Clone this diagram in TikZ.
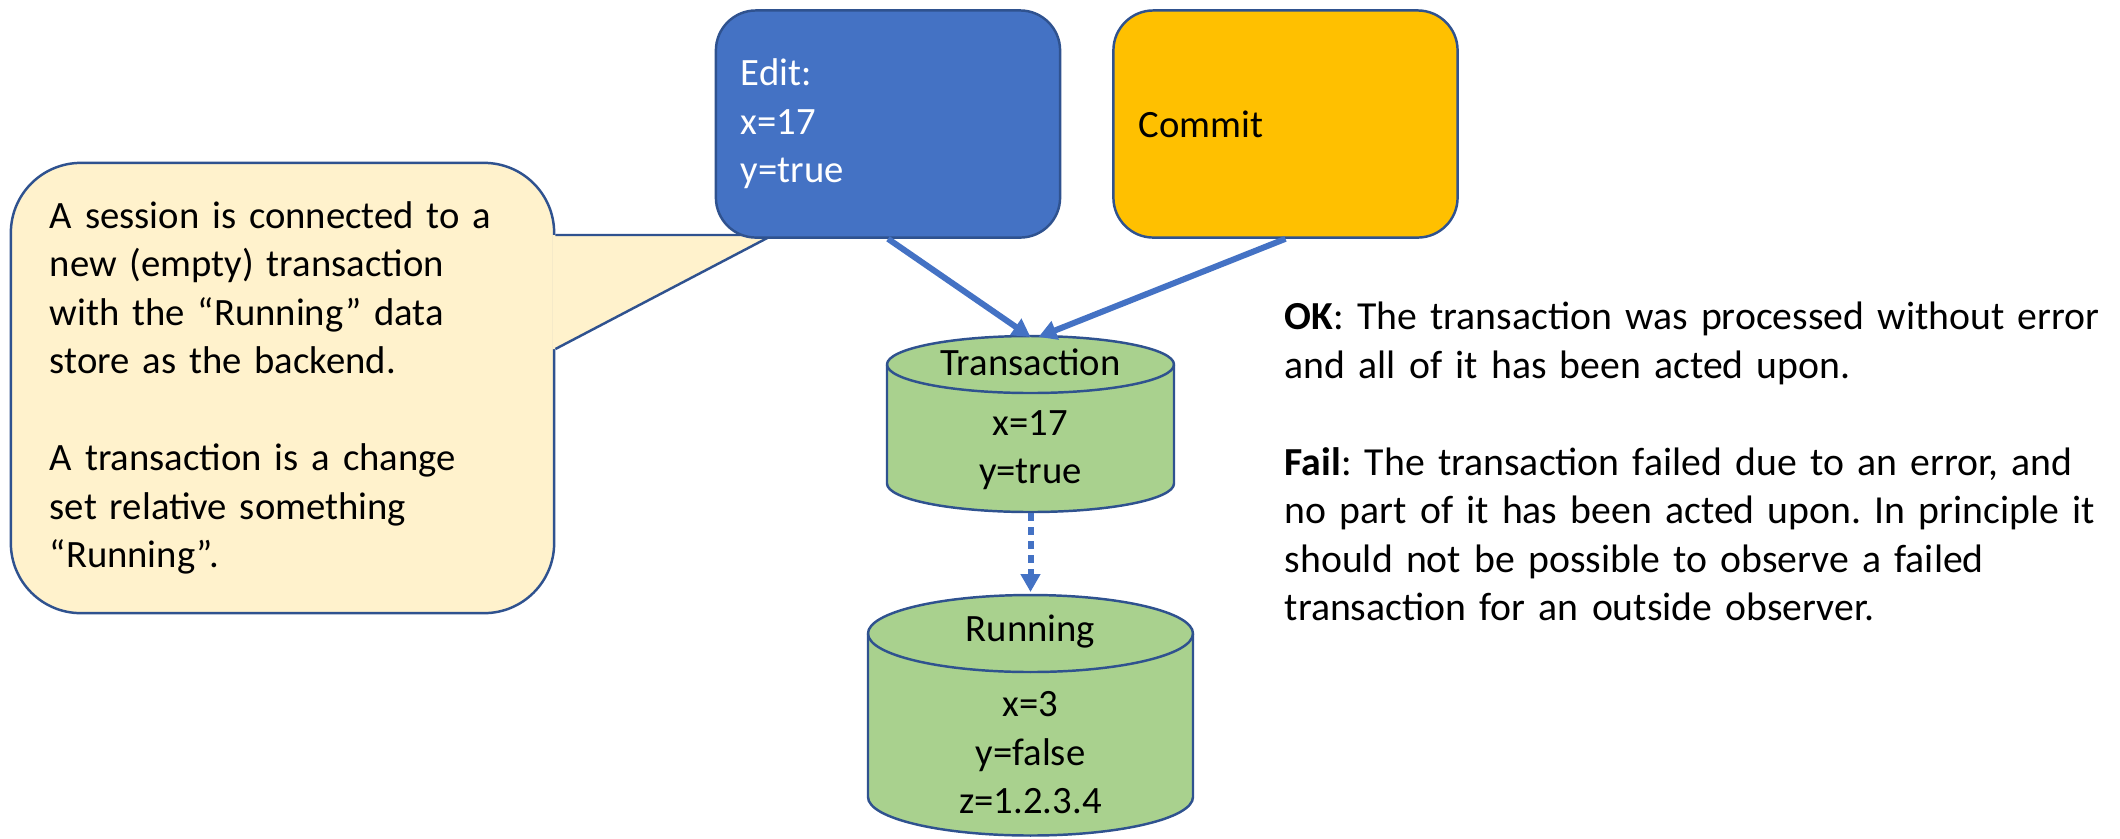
\documentclass[tikz,border=0pt]{standalone}
\usepackage{fontspec}
\setmainfont{Carlito}
\usepackage{tikz}
\usetikzlibrary{arrows.meta}
\usetikzlibrary{positioning}
\definecolor{editblue}{HTML}{4472C4}
\definecolor{edgeblue}{HTML}{2F528F}
\definecolor{commitgold}{HTML}{FFC000}
\definecolor{notecream}{HTML}{FFF2CC}
\definecolor{storegreen}{HTML}{A9D18E}
\frenchspacing
\tikzstyle{txt} = [font=\fontsize{11pt}{13.8pt}\selectfont]
\tikzstyle{op} = [rectangle, rounded corners=0.4cm, draw=edgeblue, line width=0.7pt, minimum height=2.27cm, text width=2.94cm, inner xsep=0.25cm, align=left, txt]
\tikzstyle{bubble} = [rectangle, rounded corners=0.7cm, fill=notecream, draw=edgeblue, line width=0.7pt, minimum height=4.5cm, text width=4.65cm, inner xsep=0.39cm, align=left, txt]
\tikzstyle{store} = [fill=storegreen, draw=edgeblue, line width=0.7pt]
\tikzstyle{arrow} = [draw=editblue, line width=0.06cm, -{Triangle[length=0.18cm,width=0.19cm]}]
\tikzstyle{dotarrow} = [arrow, dash pattern=on 0.08cm off 0.06cm]

\begin{document}
\begin{tikzpicture}[x=0.01cm, y=0.01cm]
\useasboundingbox (0,0) rectangle (2120,-838);
% speech bubble
\node[bubble] (note) at (282.5,-388) {A session is connected to a\\new (empty) transaction\\with the “Running” data\\store as the backend.\\[13.8pt]A transaction is a change\\set relative something\\“Running”.};
\coordinate (tailtip) at (773,-235);
\fill[notecream] (note.east |- 0,-235) -- (tailtip) -- (note.east |- 0,-349) -- ([xshift=-0.03cm]note.east |- 0,-349) -- ([xshift=-0.03cm]note.east |- 0,-235) -- cycle;
\draw[draw=edgeblue, line width=0.7pt] (note.east |- 0,-235) -- (tailtip) -- (note.east |- 0,-349);

% operations
\node[op, fill=editblue, text=white] (edit) at (888,-124) {Edit:\\x=17\\y=true};
\node[op, fill=commitgold] (commit) at (1285.5,-124) {Commit};

% transaction store
\draw[store] (887,-364.5) -- (887,-483.5) arc[start angle=180, end angle=360, x radius=143.5, y radius=28.5] -- (1174,-364.5) arc[start angle=0, end angle=180, x radius=143.5, y radius=28.5] -- cycle;
\draw[store, fill=none] (887,-364.5) arc[start angle=180, end angle=360, x radius=143.5, y radius=28.5];
\node[txt] (trans) at (1030.5,-362) {Transaction};
\node[txt, align=center] (transvals) at (1030.5,-450) {x=17\\y=true};
\coordinate (transtop) at (1030.5,-337);
\coordinate (transbot) at (1030.5,-513);

% running store
\draw[store] (868,-633.5) -- (868,-797) arc[start angle=180, end angle=360, x radius=162.5, y radius=38.5] -- (1193,-633.5) arc[start angle=0, end angle=180, x radius=162.5, y radius=38.5] -- cycle;
\draw[store, fill=none] (868,-633.5) arc[start angle=180, end angle=360, x radius=162.5, y radius=38.5];
\node[txt] (running) at (1030.5,-631) {Running};
\node[txt, align=center] (runvals) at (1030.5,-753) {x=3\\y=false\\z=1.2.3.4};
\coordinate (runtop) at (1030.5,-592);

% connectors
\draw[arrow] (edit.south) -- (transtop);
\draw[arrow] (commit.south) -- ([xshift=0.08cm]transtop);
\draw[dotarrow] (transbot) -- (runtop);

% outcomes
\node[anchor=west, text width=8.6cm, align=left, inner sep=0pt, font=\fontsize{11.3pt}{13.8pt}\selectfont] (outcomes) at (1284,-461.5) {\textbf{OK}: The transaction was processed without error\\and all of it has been acted upon.\\[13.8pt]\textbf{Fail}: The transaction failed due to an error, and\\no part of it has been acted upon. In principle it\\should not be possible to observe a failed\\transaction for an outside observer.};
\end{tikzpicture}
\end{document}
